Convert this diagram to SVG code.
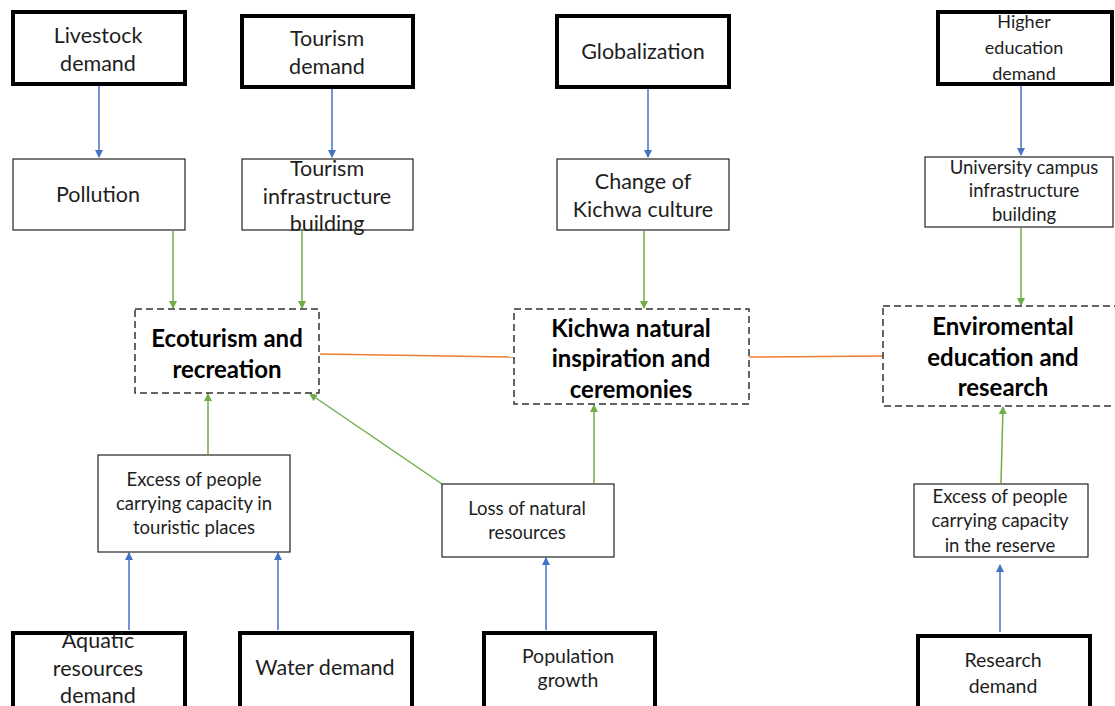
<svg xmlns="http://www.w3.org/2000/svg" width="1115" height="706" viewBox="0 0 1115 706">
  <style>
    .thick { fill: #fff; stroke: #000; stroke-width: 4; }
    .thin { fill: #fff; stroke: #222; stroke-width: 1.2; }
    .dash { fill: #fff; stroke: #333; stroke-width: 1.5; stroke-dasharray: 7 4; }
    text { font-family: Lato, "Open Sans", sans-serif; fill: #1e1e1e; text-anchor: middle; dominant-baseline: central; }
    .t20 { font-size: 21.5px; }
    .t18 { font-size: 18px; }
    .t19 { font-size: 19.5px; }
    .t17 { font-size: 18.5px; }
    .b { font-size: 24px; font-weight: bold; fill: #000; }
    .blue { stroke: #4472C4; stroke-width: 1.5; fill: none; marker-end: url(#ab); }
    .green { stroke: #70AD47; stroke-width: 1.5; fill: none; marker-end: url(#ag); }
    .orange { stroke: #ED7D31; stroke-width: 1.5; fill: none; }
  </style>
  <defs>
    <marker id="ab" markerWidth="8" markerHeight="8" refX="7" refY="4" orient="auto" markerUnits="userSpaceOnUse">
      <path d="M0,0 L8,4 L0,8 Z" fill="#4472C4"/>
    </marker>
    <marker id="ag" markerWidth="8" markerHeight="8" refX="7" refY="4" orient="auto" markerUnits="userSpaceOnUse">
      <path d="M0,0 L8,4 L0,8 Z" fill="#70AD47"/>
    </marker>
  </defs>
  <rect width="1115" height="706" fill="#fff"/>

  <g id="connectors">
    <!-- drivers to pressures (blue) -->
    <line class="blue" x1="99" y1="86" x2="99" y2="157"/>
    <line class="blue" x1="332" y1="89" x2="332" y2="157"/>
    <line class="blue" x1="648" y1="89" x2="648" y2="157"/>
    <line class="blue" x1="1021" y1="86" x2="1021" y2="155"/>
    <line class="blue" x1="129" y1="630" x2="129" y2="553"/>
    <line class="blue" x1="278" y1="630" x2="278" y2="553"/>
    <line class="blue" x1="546" y1="630" x2="546" y2="558"/>
    <line class="blue" x1="1000" y1="632" x2="1000" y2="565"/>
    <!-- pressures to services (green) -->
    <line class="green" x1="173" y1="231" x2="173" y2="308"/>
    <line class="green" x1="302" y1="231" x2="302" y2="308"/>
    <line class="green" x1="644" y1="231" x2="644" y2="308"/>
    <line class="green" x1="1021" y1="228" x2="1021" y2="305"/>
    <line class="green" x1="208" y1="454" x2="208" y2="394"/>
    <line class="green" x1="442" y1="484" x2="310" y2="394"/>
    <line class="green" x1="594" y1="483" x2="594" y2="405"/>
    <line class="green" x1="1001" y1="483" x2="1003" y2="407"/>
    <!-- links between services (orange) -->
    <line class="orange" x1="320" y1="354" x2="513" y2="357"/>
    <line class="orange" x1="749" y1="357" x2="883" y2="356"/>
  </g>

  <g id="livestock-demand">
    <rect class="thick" x="13" y="12" width="172" height="72"/>
    <text class="t20" x="98" y="35">Livestock</text>
    <text class="t20" x="98" y="63">demand</text>
  </g>
  <g id="tourism-demand">
    <rect class="thick" x="242" y="16" width="171" height="71"/>
    <text class="t20" x="327" y="38">Tourism</text>
    <text class="t20" x="327" y="66">demand</text>
  </g>
  <g id="globalization">
    <rect class="thick" x="557" y="16" width="172" height="71"/>
    <text class="t20" x="643" y="51">Globalization</text>
  </g>
  <g id="higher-education-demand">
    <rect class="thick" x="938" y="12" width="174" height="72"/>
    <text class="t18" x="1024" y="21">Higher</text>
    <text class="t18" x="1024" y="47">education</text>
    <text class="t18" x="1024" y="73">demand</text>
  </g>

  <g id="pollution">
    <rect class="thin" x="13" y="159" width="172" height="71"/>
    <text class="t20" x="98" y="194">Pollution</text>
  </g>
  <g id="tourism-infrastructure">
    <rect class="thin" x="242" y="159" width="171" height="71"/>
    <text class="t20" x="327" y="168">Tourism</text>
    <text class="t20" x="327" y="196">infrastructure</text>
    <text class="t20" x="327" y="223">building</text>
  </g>
  <g id="kichwa-culture-change">
    <rect class="thin" x="557" y="159" width="172" height="71"/>
    <text class="t20" x="643" y="181">Change of</text>
    <text class="t20" x="643" y="209">Kichwa culture</text>
  </g>
  <g id="campus-infrastructure">
    <rect class="thin" x="925" y="157" width="188" height="70"/>
    <text class="t17" x="1024" y="167">University campus</text>
    <text class="t17" x="1024" y="190">infrastructure</text>
    <text class="t17" x="1024" y="214">building</text>
  </g>

  <g id="ecotourism">
    <rect class="dash" x="135" y="309" width="184" height="84"/>
    <text class="b" x="227" y="337">Ecoturism and</text>
    <text class="b" x="227" y="368">recreation</text>
  </g>
  <g id="kichwa-ceremonies">
    <rect class="dash" x="514" y="309" width="235" height="95"/>
    <text class="b" x="631" y="327">Kichwa natural</text>
    <text class="b" x="631" y="357">inspiration and</text>
    <text class="b" x="631" y="388">ceremonies</text>
  </g>
  <g id="environmental-education">
    <rect class="dash" x="883" y="306" width="240" height="100"/>
    <text class="b" x="1003" y="325">Enviromental</text>
    <text class="b" x="1003" y="356">education and</text>
    <text class="b" x="1003" y="386">research</text>
  </g>

  <g id="excess-touristic">
    <rect class="thin" x="98" y="455" width="192" height="97"/>
    <text class="t17" x="194" y="479">Excess of people</text>
    <text class="t17" x="194" y="503">carrying capacity in</text>
    <text class="t17" x="194" y="527">touristic places</text>
  </g>
  <g id="loss-natural-resources">
    <rect class="thin" x="442" y="484" width="172" height="73"/>
    <text class="t17" x="527" y="508">Loss of natural</text>
    <text class="t17" x="527" y="532">resources</text>
  </g>
  <g id="excess-reserve">
    <rect class="thin" x="914" y="484" width="174" height="73"/>
    <text class="t17" x="1000" y="496">Excess of people</text>
    <text class="t17" x="1000" y="520">carrying capacity</text>
    <text class="t17" x="1000" y="545">in the reserve</text>
  </g>

  <g id="aquatic-demand">
    <rect class="thick" x="13" y="633" width="172" height="80"/>
    <text class="t20" x="98" y="640">Aquatic</text>
    <text class="t20" x="98" y="668">resources</text>
    <text class="t20" x="98" y="695">demand</text>
  </g>
  <g id="water-demand">
    <rect class="thick" x="240" y="633" width="172" height="80"/>
    <text class="t20" x="325" y="667">Water demand</text>
  </g>
  <g id="population-growth">
    <rect class="thick" x="484" y="633" width="171" height="80"/>
    <text class="t19" x="568" y="655">Population</text>
    <text class="t19" x="568" y="679">growth</text>
  </g>
  <g id="research-demand">
    <rect class="thick" x="918" y="636" width="172" height="80"/>
    <text class="t19" x="1003" y="659">Research</text>
    <text class="t19" x="1003" y="685">demand</text>
  </g>
</svg>
